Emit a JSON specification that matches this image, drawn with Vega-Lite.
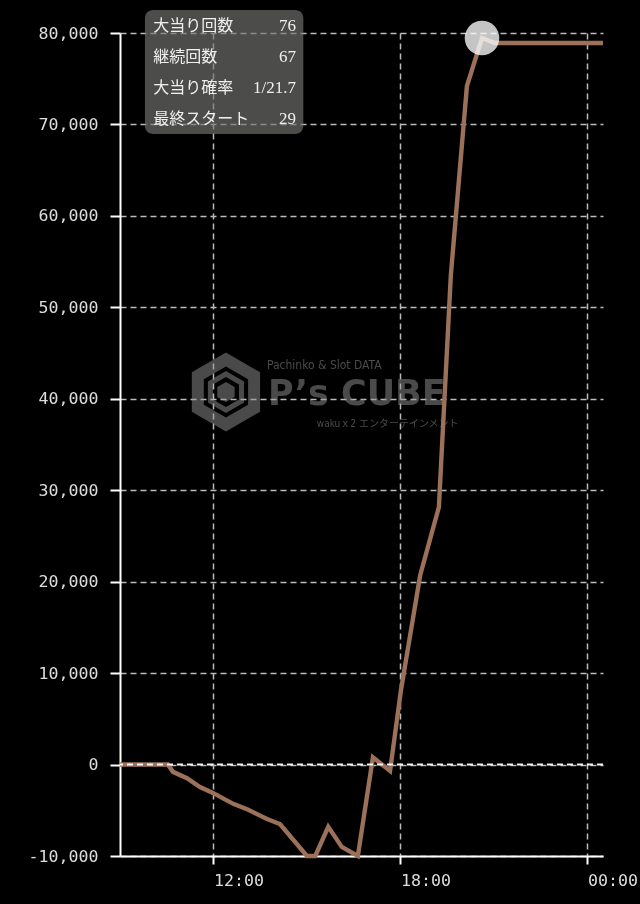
{
  "$schema": "https://vega.github.io/schema/vega-lite/v6.json",
  "autosize": "none",
  "width": 483,
  "height": 823,
  "padding": {"left": 120, "top": 33, "right": 37, "bottom": 48},
  "background": "#000000",
  "config": {
    "view": {"stroke": null},
    "axis": {
      "domainColor": "#ffffff",
      "domainWidth": 2,
      "tickColor": "#ffffff",
      "tickWidth": 2,
      "labelColor": "#dddddd",
      "labelFont": "DejaVu Sans Mono",
      "labelFontSize": 16.6,
      "gridColor": "#bbbbbb",
      "gridDash": [6, 4],
      "gridWidth": 1.5
    }
  },
  "datasets": {
    "series": [
      {"time": "2012-01-01T09:00", "value": 0},
      {"time": "2012-01-01T10:32", "value": 0},
      {"time": "2012-01-01T10:42", "value": -800},
      {"time": "2012-01-01T11:09", "value": -1500},
      {"time": "2012-01-01T11:34", "value": -2450},
      {"time": "2012-01-01T11:59", "value": -3100},
      {"time": "2012-01-01T12:38", "value": -4300},
      {"time": "2012-01-01T13:07", "value": -4950},
      {"time": "2012-01-01T13:43", "value": -5950},
      {"time": "2012-01-01T14:08", "value": -6500},
      {"time": "2012-01-01T15:00", "value": -10000},
      {"time": "2012-01-01T15:16", "value": -10000},
      {"time": "2012-01-01T15:41", "value": -6800},
      {"time": "2012-01-01T16:07", "value": -9000},
      {"time": "2012-01-01T16:38", "value": -10000},
      {"time": "2012-01-01T17:07", "value": 800},
      {"time": "2012-01-01T17:40", "value": -700},
      {"time": "2012-01-01T18:01", "value": 8150},
      {"time": "2012-01-01T18:38", "value": 20700},
      {"time": "2012-01-01T19:14", "value": 28150},
      {"time": "2012-01-01T19:37", "value": 53500},
      {"time": "2012-01-01T20:08", "value": 74200},
      {"time": "2012-01-01T20:37", "value": 79450},
      {"time": "2012-01-01T21:02", "value": 78900},
      {"time": "2012-01-02T00:30", "value": 78900}
    ],
    "stats": [
      {"label": "大当り回数", "value": "76"},
      {"label": "継続回数", "value": "67"},
      {"label": "大当り確率", "value": "1/21.7"},
      {"label": "最終スタート", "value": "29"}
    ],
    "one": [{}]
  },
  "resolve": {"scale": {"y": "independent"}, "axis": {"y": "independent"}},
  "layer": [
    {
      "data": {"name": "one"},
      "mark": {"type": "point", "shape": "M0,-1L0.866,-0.5L0.866,0.5L0,1L-0.866,0.5L-0.866,-0.5Z", "filled": false, "size": 4225, "strokeWidth": 12, "color": "#949494", "opacity": 0.5},
      "encoding": {
        "x": {"datum": {"year": 2012, "month": 1, "date": 1, "hours": 12, "minutes": 24}, "type": "temporal", "title": null},
        "y": {"datum": 40740, "type": "quantitative", "axis": null, "scale": {"domain": [-10000, 80000], "nice": false, "zero": false}}
      }
    },
    {
      "data": {"name": "one"},
      "mark": {"type": "point", "shape": "M0,-1L0.866,-0.5L0.866,0.5L0,1L-0.866,0.5L-0.866,-0.5Z", "filled": false, "size": 1296, "strokeWidth": 5, "color": "#949494", "opacity": 0.5},
      "encoding": {
        "x": {"datum": {"year": 2012, "month": 1, "date": 1, "hours": 12, "minutes": 24}, "type": "temporal", "title": null},
        "y": {"datum": 40740, "type": "quantitative", "axis": null, "scale": {"domain": [-10000, 80000], "nice": false, "zero": false}}
      }
    },
    {
      "data": {"name": "one"},
      "mark": {"type": "point", "shape": "M0,-1L0.866,-0.5L0.866,0.5L0,1L-0.866,0.5L-0.866,-0.5Z", "filled": true, "size": 400, "strokeWidth": 0, "color": "#949494", "opacity": 0.5},
      "encoding": {
        "x": {"datum": {"year": 2012, "month": 1, "date": 1, "hours": 12, "minutes": 24}, "type": "temporal", "title": null},
        "y": {"datum": 40740, "type": "quantitative", "axis": null, "scale": {"domain": [-10000, 80000], "nice": false, "zero": false}}
      }
    },
    {
      "data": {"name": "one"},
      "mark": {"type": "text", "text": "Pachinko & Slot DATA", "font": "DejaVu Sans Condensed", "fontSize": 12, "align": "left", "baseline": "alphabetic", "color": "#949494", "opacity": 0.5},
      "encoding": {
        "x": {"datum": {"year": 2012, "month": 1, "date": 1, "hours": 13, "minutes": 43}, "type": "temporal", "title": null},
        "y": {"datum": 43255, "type": "quantitative", "axis": null, "scale": {"domain": [-10000, 80000], "nice": false, "zero": false}}
      }
    },
    {
      "data": {"name": "one"},
      "mark": {"type": "text", "text": "P’s CUBE", "font": "DejaVu Sans", "fontWeight": "bold", "fontSize": 35, "align": "left", "baseline": "alphabetic", "color": "#949494", "opacity": 0.5},
      "encoding": {
        "x": {"datum": {"year": 2012, "month": 1, "date": 1, "hours": 13, "minutes": 45}, "type": "temporal", "title": null},
        "y": {"datum": 39320, "type": "quantitative", "axis": null, "scale": {"domain": [-10000, 80000], "nice": false, "zero": false}}
      }
    },
    {
      "data": {"name": "one"},
      "mark": {"type": "text", "text": "wakuｘ2 エンターテインメント", "font": "DejaVu Sans Condensed, Noto Sans CJK JP", "fontSize": 10, "align": "left", "baseline": "alphabetic", "color": "#949494", "opacity": 0.5},
      "encoding": {
        "x": {"datum": {"year": 2012, "month": 1, "date": 1, "hours": 15, "minutes": 19}, "type": "temporal", "title": null},
        "y": {"datum": 36910, "type": "quantitative", "axis": null, "scale": {"domain": [-10000, 80000], "nice": false, "zero": false}}
      }
    },
    {
      "data": {"name": "one"},
      "mark": {"type": "rect", "cornerRadius": 8, "color": "#737371", "opacity": 0.66},
      "encoding": {
        "x": {"datum": {"year": 2012, "month": 1, "date": 1, "hours": 9, "minutes": 48}, "type": "temporal", "title": null},
        "x2": {"datum": {"year": 2012, "month": 1, "date": 1, "hours": 14, "minutes": 53}},
        "y": {"datum": 82515, "type": "quantitative", "axis": null, "scale": {"domain": [-10000, 80000], "nice": false, "zero": false}},
        "y2": {"datum": 68955}
      }
    },
    {
      "data": {"name": "series"},
      "mark": {"type": "line", "color": "#9b7259", "strokeWidth": 4.4},
      "encoding": {
        "x": {
          "field": "time",
          "type": "temporal",
          "title": null,
          "scale": {"domain": [{"year": 2012, "month": 1, "date": 1, "hours": 9}, {"year": 2012, "month": 1, "date": 2, "hours": 0, "minutes": 30}], "nice": false},
          "axis": {
            "orient": "bottom",
            "title": null,
            "grid": true,
            "values": [{"year": 2012, "month": 1, "date": 1, "hours": 12}, {"year": 2012, "month": 1, "date": 1, "hours": 18}, {"year": 2012, "month": 1, "date": 2, "hours": 0}],
            "format": "%H:%M",
            "tickSize": 8,
            "labelAlign": "left",
            "labelBaseline": "top",
            "labelDx": 5,
            "labelPadding": 8,
            "labelFlush": false,
            "labelOverlap": false,
            "labelBound": false
          }
        },
        "y": {
          "field": "value",
          "type": "quantitative",
          "title": null,
          "scale": {"domain": [-10000, 80000], "nice": false, "zero": false},
          "axis": {
            "title": null,
            "grid": true,
            "values": [-10000, 0, 10000, 20000, 30000, 40000, 50000, 60000, 70000, 80000],
            "format": ",d",
            "labelExpr": "replace(datum.label, '−', '-')",
            "tickSize": 10,
            "labelPadding": 12
          }
        }
      }
    },
    {
      "data": {"name": "one"},
      "mark": {"type": "rule", "color": "#f4f4f4", "strokeWidth": 2, "strokeDash": [6, 4]},
      "encoding": {
        "y": {"datum": 0, "type": "quantitative", "axis": null, "scale": {"domain": [-10000, 80000], "nice": false, "zero": false}}
      }
    },
    {
      "data": {"name": "series"},
      "transform": [
        {"joinaggregate": [{"op": "max", "field": "value", "as": "vmax"}]},
        {"filter": "datum.value === datum.vmax"}
      ],
      "mark": {"type": "circle", "size": 1195, "color": "#c4c4c4", "opacity": 1, "blend": "screen"},
      "encoding": {
        "x": {"field": "time", "type": "temporal", "title": null},
        "y": {"field": "value", "type": "quantitative", "axis": null, "scale": {"domain": [-10000, 80000], "nice": false, "zero": false}}
      }
    },
    {
      "data": {"name": "stats"},
      "mark": {"type": "text", "align": "left", "baseline": "middle", "font": "Liberation Serif, Noto Sans CJK JP", "fontSize": 16, "color": "#f0f0f0"},
      "encoding": {
        "x": {"datum": {"year": 2012, "month": 1, "date": 1, "hours": 10, "minutes": 4}, "type": "temporal", "title": null},
        "y": {"field": "label", "type": "nominal", "axis": null, "sort": null, "scale": {"domain": ["大当り回数", "継続回数", "大当り確率", "最終スタート"], "range": [-7, 86], "padding": 0}},
        "text": {"field": "label"}
      }
    },
    {
      "data": {"name": "stats"},
      "mark": {"type": "text", "align": "right", "baseline": "middle", "font": "Liberation Serif, Noto Sans CJK JP", "fontSize": 17, "color": "#f0f0f0"},
      "encoding": {
        "x": {"datum": {"year": 2012, "month": 1, "date": 1, "hours": 14, "minutes": 39}, "type": "temporal", "title": null},
        "y": {"field": "label", "type": "nominal", "axis": null, "sort": null, "scale": {"domain": ["大当り回数", "継続回数", "大当り確率", "最終スタート"], "range": [-7, 86], "padding": 0}},
        "text": {"field": "value"}
      }
    }
  ]
}
